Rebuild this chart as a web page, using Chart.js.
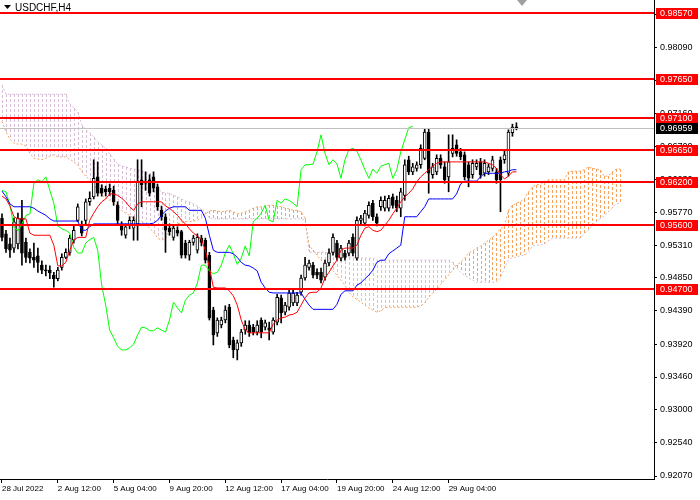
<!DOCTYPE html>
<html>
<head>
<meta charset="utf-8">
<title>USDCHF,H4</title>
<script src="https://cdn.jsdelivr.net/npm/chart.js@4.4.0/dist/chart.umd.min.js"></script>
<style>
  html, body { margin: 0; padding: 0; background: #fff; }
  #wrap { width: 700px; height: 500px; }
</style>
</head>
<body>
<div id="wrap"><canvas id="chart" width="700" height="500"></canvas></div>
<script>
// USDCHF H4 candles with Ichimoku and horizontal levels
const symbolTitle = 'USDCHF,H4';
const slotCount = 164;      // bar slots on the time axis
const labelStep = 14;       // one time label every 14 bars
const timeLabels = ['28 Jul 2022', '2 Aug 12:00', '5 Aug 04:00', '9 Aug 20:00', '12 Aug 12:00',
                    '17 Aug 04:00', '19 Aug 20:00', '24 Aug 12:00', '29 Aug 04:00'];
const priceTicks = [0.92070, 0.92540, 0.93000, 0.93460, 0.93920, 0.94390, 0.94850, 0.95310,
                    0.95770, 0.96230, 0.96700, 0.97160, 0.97620, 0.98090, 0.98550];
const levels = [0.98570, 0.97650, 0.97100, 0.96650, 0.96200, 0.95600, 0.94700];
const lastPrice = 0.96959;

const openP = [0.9569,0.9547,0.9533,0.9527,0.9533,0.9569,0.9535,0.9521,0.9514,0.9516,
  0.9503,0.9496,0.9496,0.9489,0.9484,0.9500,0.9514,0.9521,0.9538,0.9566,
  0.9559,0.9566,0.9592,0.9599,0.9627,0.9611,0.9610,0.9611,0.9608,0.9587,
  0.9559,0.9545,0.9559,0.9555,0.9561,0.9623,0.9621,0.9623,0.9627,0.9613,
  0.9580,0.9571,0.9555,0.9542,0.9552,0.9550,0.9534,0.9517,0.9535,0.9524,
  0.9541,0.9538,0.9517,0.9440,0.9408,0.9419,0.9426,0.9444,0.9398,0.9384,
  0.9394,0.9412,0.9419,0.9416,0.9409,0.9426,0.9416,0.9415,0.9409,0.9423,
  0.9457,0.9437,0.9444,0.9450,0.9450,0.9465,0.9485,0.9500,0.9503,0.9493,
  0.9493,0.9486,0.9506,0.9521,0.9534,0.9513,0.9520,0.9520,0.9542,0.9513,
  0.9566,0.9562,0.9573,0.9590,0.9571,0.9585,0.9583,0.9583,0.9599,0.9594,
  0.9583,0.9601,0.9651,0.9634,0.9639,0.9644,0.9653,0.9690,0.9630,0.9634,
  0.9653,0.9641,0.9627,0.9660,0.9672,0.9662,0.9658,0.9644,0.9630,0.9641,
  0.9648,0.9632,0.9634,0.9639,0.9634,0.9651,0.9651,0.9632,0.9689,0.9697];
const highP = [0.9575,0.9552,0.9541,0.9569,0.9576,0.9594,0.9541,0.9526,0.9534,0.9527,
  0.9509,0.9503,0.9502,0.9493,0.9500,0.9519,0.9526,0.9545,0.9558,0.9589,
  0.9565,0.9596,0.9606,0.9651,0.9648,0.9616,0.9614,0.9617,0.9614,0.9592,
  0.9564,0.9561,0.9571,0.9571,0.9651,0.9651,0.9634,0.9630,0.9634,0.9617,
  0.9586,0.9575,0.9561,0.9559,0.9557,0.9552,0.9538,0.9538,0.9545,0.9547,
  0.9545,0.9541,0.9521,0.9444,0.9429,0.9430,0.9446,0.9448,0.9402,0.9398,
  0.9413,0.9425,0.9425,0.9420,0.9425,0.9429,0.9426,0.9423,0.9429,0.9462,
  0.9461,0.9451,0.9468,0.9468,0.9465,0.9489,0.9514,0.9510,0.9507,0.9498,
  0.9499,0.9510,0.9526,0.9547,0.9538,0.9531,0.9524,0.9538,0.9547,0.9571,
  0.9573,0.9580,0.9592,0.9594,0.9575,0.9599,0.9600,0.9601,0.9603,0.9600,
  0.9611,0.9651,0.9656,0.9646,0.9648,0.9672,0.9694,0.9694,0.9646,0.9658,
  0.9658,0.9648,0.9686,0.9686,0.9679,0.9667,0.9662,0.9648,0.9651,0.9651,
  0.9653,0.9651,0.9645,0.9656,0.9639,0.9655,0.9665,0.9693,0.9701,0.9703];
const lowP = [0.9537,0.9521,0.9514,0.9521,0.9526,0.9503,0.9507,0.9506,0.9500,0.9493,
  0.9491,0.9488,0.9484,0.9472,0.9481,0.9496,0.9512,0.9517,0.9534,0.9564,
  0.9544,0.9561,0.9587,0.9596,0.9600,0.9600,0.9600,0.9601,0.9587,0.9561,
  0.9545,0.9541,0.9554,0.9538,0.9538,0.9585,0.9608,0.9600,0.9606,0.9580,
  0.9566,0.9521,0.9545,0.9538,0.9544,0.9513,0.9513,0.9510,0.9531,0.9520,
  0.9530,0.9506,0.9426,0.9391,0.9403,0.9415,0.9422,0.9387,0.9373,0.9370,
  0.9389,0.9406,0.9403,0.9405,0.9405,0.9401,0.9412,0.9398,0.9406,0.9419,
  0.9422,0.9433,0.9440,0.9446,0.9446,0.9461,0.9482,0.9496,0.9485,0.9484,
  0.9478,0.9482,0.9502,0.9517,0.9510,0.9509,0.9510,0.9516,0.9516,0.9510,
  0.9561,0.9558,0.9569,0.9566,0.9558,0.9580,0.9579,0.9579,0.9583,0.9578,
  0.9571,0.9594,0.9630,0.9630,0.9635,0.9639,0.9651,0.9604,0.9625,0.9630,
  0.9639,0.9618,0.9606,0.9655,0.9656,0.9651,0.9623,0.9613,0.9625,0.9637,
  0.9625,0.9628,0.9630,0.9635,0.9618,0.9578,0.9646,0.9628,0.9684,0.9693];
const closeP = [0.9542,0.9526,0.9524,0.9564,0.9569,0.9520,0.9514,0.9513,0.9510,0.9507,
  0.9496,0.9495,0.9492,0.9484,0.9496,0.9514,0.9521,0.9541,0.9552,0.9585,
  0.9548,0.9592,0.9597,0.9625,0.9604,0.9604,0.9606,0.9606,0.9592,0.9566,
  0.9552,0.9557,0.9566,0.9566,0.9620,0.9616,0.9618,0.9604,0.9611,0.9585,
  0.9571,0.9552,0.9550,0.9555,0.9548,0.9517,0.9517,0.9535,0.9541,0.9542,
  0.9535,0.9510,0.9429,0.9405,0.9426,0.9426,0.9440,0.9391,0.9384,0.9394,
  0.9409,0.9419,0.9408,0.9409,0.9419,0.9409,0.9422,0.9412,0.9426,0.9458,
  0.9436,0.9447,0.9464,0.9464,0.9461,0.9485,0.9503,0.9506,0.9489,0.9489,
  0.9482,0.9506,0.9520,0.9542,0.9514,0.9527,0.9514,0.9534,0.9520,0.9566,
  0.9569,0.9576,0.9587,0.9571,0.9562,0.9594,0.9594,0.9597,0.9587,0.9583,
  0.9606,0.9644,0.9634,0.9641,0.9644,0.9667,0.9690,0.9632,0.9641,0.9653,
  0.9644,0.9623,0.9648,0.9667,0.9660,0.9655,0.9627,0.9625,0.9646,0.9646,
  0.9630,0.9646,0.9641,0.9651,0.9623,0.9623,0.9658,0.9690,0.9697,0.96959];

// Ichimoku lines
const tenkan = [0.9600,0.9596,0.9586,0.9571,0.9568,0.9568,0.9568,0.9548,0.9545,0.9545,
  0.9545,0.9545,0.9545,0.9531,0.9502,0.9502,0.9507,0.9524,0.9538,0.9542,
  0.9542,0.9542,0.9566,0.9576,0.9585,0.9592,0.9596,0.9603,0.9603,0.9601,
  0.9597,0.9592,0.9585,0.9580,0.9589,0.9592,0.9592,0.9592,0.9592,0.9592,
  0.9592,0.9586,0.9583,0.9578,0.9573,0.9566,0.9561,0.9554,0.9548,0.9544,
  0.9539,0.9524,0.9500,0.9472,0.9471,0.9471,0.9471,0.9467,0.9460,0.9447,
  0.9426,0.9412,0.9408,0.9408,0.9408,0.9408,0.9408,0.9408,0.9420,0.9426,
  0.9429,0.9430,0.9433,0.9434,0.9437,0.9447,0.9457,0.9464,0.9465,0.9465,
  0.9471,0.9485,0.9493,0.9502,0.9510,0.9524,0.9527,0.9527,0.9527,0.9531,
  0.9545,0.9555,0.9557,0.9552,0.9550,0.9552,0.9559,0.9566,0.9575,0.9583,
  0.9592,0.9599,0.9604,0.9610,0.9620,0.9627,0.9632,0.9637,0.9642,0.9646,
  0.9648,0.9648,0.9648,0.9648,0.9648,0.9648,0.9648,0.9648,0.9648,0.9648,
  0.9648,0.9648,0.9646,0.9644,0.9639,0.9630,0.9624,0.9628,0.9634,0.9634];
const kijun = [0.9607,0.9599,0.9589,0.9585,0.9585,0.9585,0.9585,0.9585,0.9583,0.9579,
  0.9576,0.9573,0.9568,0.9565,0.9565,0.9565,0.9565,0.9565,0.9565,0.9565,
  0.9552,0.9552,0.9557,0.9561,0.9561,0.9561,0.9561,0.9561,0.9561,0.9561,
  0.9561,0.9561,0.9561,0.9561,0.9561,0.9561,0.9561,0.9561,0.9562,0.9566,
  0.9573,0.9579,0.9583,0.9585,0.9585,0.9585,0.9585,0.9580,0.9580,0.9580,
  0.9580,0.9569,0.9545,0.9524,0.9521,0.9521,0.9521,0.9521,0.9519,0.9514,
  0.9507,0.9503,0.9502,0.9499,0.9495,0.9479,0.9471,0.9465,0.9464,0.9464,
  0.9464,0.9464,0.9464,0.9464,0.9464,0.9464,0.9455,0.9447,0.9441,0.9441,
  0.9441,0.9441,0.9441,0.9441,0.9448,0.9462,0.9467,0.9467,0.9467,0.9475,
  0.9478,0.9484,0.9489,0.9496,0.9507,0.9510,0.9510,0.9519,0.9523,0.9527,
  0.9531,0.9571,0.9571,0.9571,0.9571,0.9578,0.9585,0.9596,0.9596,0.9596,
  0.9596,0.9596,0.9596,0.9596,0.9603,0.9617,0.9621,0.9621,0.9621,0.9621,
  0.9627,0.9632,0.9632,0.9632,0.9632,0.9632,0.9634,0.9635,0.9637,0.9637];
const chikou = [0.9608,0.9606,0.9587,0.9557,0.9551,0.9561,0.9573,0.9575,0.9618,0.9623,
  0.9620,0.9627,0.9608,0.9590,0.9558,0.9554,0.9552,0.9548,0.9528,0.9520,
  0.9520,0.9534,0.9539,0.9542,0.9524,0.9475,0.9447,0.9412,0.9401,0.9389,
  0.9384,0.9384,0.9387,0.9392,0.9405,0.9416,0.9415,0.9411,0.9411,0.9415,
  0.9412,0.9409,0.9426,0.9451,0.9443,0.9436,0.9454,0.9461,0.9464,0.9478,
  0.9503,0.9503,0.9495,0.9491,0.9493,0.9503,0.9520,0.9531,0.9519,0.9504,
  0.9513,0.9530,0.9516,0.9564,0.9569,0.9576,0.9587,0.9566,0.9564,0.9594,
  0.9590,0.9596,0.9594,0.9590,0.9585,0.9637,0.9644,0.9644,0.9645,0.9662,
  0.9686,0.9660,0.9644,0.9651,0.9645,0.9625,0.9651,0.9665,0.9667,0.9663,
  0.9651,0.9637,0.9625,0.9638,0.9632,0.9642,0.9644,0.9646,0.9625,0.9637,
  0.9662,0.9679,0.9696,0.9698];
const spanA = [0.9705,0.9690,0.9680,0.9674,0.9673,0.9673,0.9670,0.9660,0.9653,0.9652,
  0.9651,0.9653,0.9656,0.9658,0.9655,0.9655,0.9655,0.9652,0.9648,0.9644,
  0.9634,0.9628,0.9623,0.9616,0.9608,0.9601,0.9597,0.9594,0.9590,0.9587,
  0.9580,0.9576,0.9573,0.9569,0.9566,0.9564,0.9561,0.9555,0.9550,0.9541,
  0.9538,0.9541,0.9552,0.9559,0.9561,0.9562,0.9564,0.9564,0.9565,0.9566,
  0.9569,0.9575,0.9579,0.9580,0.9579,0.9578,0.9579,0.9580,0.9578,0.9575,
  0.9576,0.9578,0.9580,0.9583,0.9585,0.9585,0.9586,0.9587,0.9587,0.9586,
  0.9585,0.9583,0.9582,0.9580,0.9580,0.9578,0.9569,0.9531,0.9524,0.9517,
  0.9510,0.9504,0.9500,0.9495,0.9489,0.9482,0.9475,0.9465,0.9458,0.9455,
  0.9451,0.9447,0.9443,0.9440,0.9437,0.9439,0.9443,0.9444,0.9444,0.9444,
  0.9444,0.9444,0.9444,0.9444,0.9444,0.9446,0.9450,0.9458,0.9464,0.9469,
  0.9476,0.9482,0.9489,0.9496,0.9503,0.9507,0.9513,0.9520,0.9523,0.9527,
  0.9530,0.9534,0.9538,0.9542,0.9548,0.9554,0.9558,0.9580,0.9587,0.9590,
  0.9592,0.9596,0.9606,0.9613,0.9616,0.9616,0.9620,0.9623,0.9623,0.9623,
  0.9623,0.9623,0.9634,0.9635,0.9635,0.9635,0.9637,0.9641,0.9639,0.9638,
  0.9637,0.9628,0.9628,0.9634,0.9638,0.9638];
const spanB = [0.9756,0.9743,0.9743,0.9743,0.9743,0.9743,0.9743,0.9743,0.9743,0.9743,
  0.9743,0.9743,0.9743,0.9743,0.9743,0.9743,0.9743,0.9729,0.9724,0.9718,
  0.9700,0.9693,0.9689,0.9683,0.9676,0.9672,0.9667,0.9659,0.9652,0.9645,
  0.9642,0.9641,0.9639,0.9638,0.9637,0.9635,0.9634,0.9632,0.9623,0.9611,
  0.9606,0.9604,0.9604,0.9601,0.9599,0.9596,0.9593,0.9592,0.9589,0.9586,
  0.9582,0.9578,0.9569,0.9568,0.9568,0.9568,0.9568,0.9568,0.9568,0.9568,
  0.9568,0.9568,0.9568,0.9568,0.9568,0.9568,0.9568,0.9568,0.9568,0.9568,
  0.9568,0.9568,0.9568,0.9568,0.9568,0.9568,0.9566,0.9521,0.9521,0.9521,
  0.9521,0.9521,0.9521,0.9521,0.9519,0.9517,0.9516,0.9514,0.9513,0.9513,
  0.9513,0.9513,0.9513,0.9513,0.9510,0.9510,0.9510,0.9510,0.9510,0.9510,
  0.9510,0.9510,0.9510,0.9510,0.9510,0.9510,0.9510,0.9510,0.9510,0.9510,
  0.9510,0.9510,0.9510,0.9507,0.9499,0.9493,0.9489,0.9485,0.9482,0.9479,
  0.9479,0.9479,0.9479,0.9479,0.9479,0.9485,0.9499,0.9510,0.9514,0.9514,
  0.9516,0.9517,0.9521,0.9530,0.9531,0.9531,0.9533,0.9537,0.9541,0.9541,
  0.9541,0.9541,0.9541,0.9541,0.9541,0.9541,0.9547,0.9552,0.9559,0.9564,
  0.9568,0.9572,0.9578,0.9583,0.9589,0.9590];

document.addEventListener('DOMContentLoaded', function () {
    const ctx = document.getElementById('chart').getContext('2d');
    const slots = Array.from({ length: slotCount }, (_, i) => i);
    const tickFont = { family: 'Liberation Sans', size: 9 };
    const sandy = '#F4A460';
    const thistle = '#D8BFD8';

    function lineSet(label, data, color, order, dash) {
        return {
            type: 'line', label: label, data: data, borderColor: color, borderWidth: 1,
            borderDash: dash || [], pointRadius: 0, tension: 0, fill: false, order: order
        };
    }

    // Kumo: dotted vertical histogram between Senkou A and B, one stroke per bar
    const kumo = {
        id: 'kumo',
        beforeDatasetsDraw(chart) {
            const { ctx, chartArea: a, scales: { x, y } } = chart;
            ctx.save();
            ctx.beginPath();
            ctx.rect(a.left, a.top, a.width, a.height);
            ctx.clip();
            ctx.lineWidth = 1;
            ctx.setLineDash([3, 2]);
            spanA.forEach(function (va, i) {
                const vb = spanB[i];
                const px = Math.round(x.getPixelForValue(i)) + 0.5;
                const top = y.getPixelForValue(Math.max(va, vb));
                const bottom = y.getPixelForValue(Math.min(va, vb));
                ctx.strokeStyle = va >= vb ? sandy : thistle;
                ctx.beginPath();
                ctx.moveTo(px, Math.round(top));
                ctx.lineTo(px, Math.round(bottom));
                ctx.stroke();
            });
            ctx.restore();
        }
    };

    const overlay = {
        id: 'overlay',
        afterDatasetsDraw(chart) {
            const { ctx, chartArea: a, scales: { y } } = chart;
            ctx.save();
            // current bid line
            const py0 = Math.round(y.getPixelForValue(lastPrice)) + 0.5;
            ctx.strokeStyle = '#C0C0C0';
            ctx.lineWidth = 1;
            ctx.beginPath();
            ctx.moveTo(a.left, py0);
            ctx.lineTo(a.right, py0);
            ctx.stroke();
            // support / resistance levels
            ctx.strokeStyle = '#FF0000';
            ctx.lineWidth = 2;
            levels.forEach(function (v) {
                const py = Math.round(y.getPixelForValue(v));
                ctx.beginPath();
                ctx.moveTo(a.left, py);
                ctx.lineTo(a.right, py);
                ctx.stroke();
            });
            ctx.restore();
        },
        afterDraw(chart) {
            const { ctx, chartArea: a, scales: { x, y } } = chart;
            ctx.save();
            ctx.font = '9px "Liberation Sans"';
            ctx.textBaseline = 'middle';
            ctx.textAlign = 'left';
            function tag(v, bg) {
                const py = Math.round(y.getPixelForValue(v));
                ctx.fillStyle = bg;
                ctx.fillRect(a.right + 2, py - 5, 42, 11);
                ctx.fillStyle = '#FFFFFF';
                ctx.fillText(v.toFixed(5), a.right + 6, py + 0.5);
            }
            levels.forEach(function (v) { tag(v, '#FF0000'); });
            tag(lastPrice, '#000000');

            // symbol caption
            ctx.fillStyle = '#000000';
            ctx.beginPath();
            ctx.moveTo(4, 5); ctx.lineTo(11, 5); ctx.lineTo(7.5, 9);
            ctx.closePath();
            ctx.fill();
            ctx.font = '10px "Liberation Sans"';
            ctx.fillText(symbolTitle, 15, 8);

            // chart shift marker
            const sx = Math.round(x.getPixelForValue(closeP.length - 1)) + 6;
            ctx.fillStyle = '#A0A0A0';
            ctx.beginPath();
            ctx.moveTo(sx - 5, 0); ctx.lineTo(sx + 5, 0); ctx.lineTo(sx, 6);
            ctx.closePath();
            ctx.fill();
            ctx.restore();
        }
    };

    new Chart(ctx, {
        type: 'bar',
        data: {
            labels: slots,
            datasets: [
                lineSet('Tenkan-sen', tenkan, '#FF0000', 0),
                lineSet('Kijun-sen', kijun, '#0000FF', 0),
                lineSet('Chikou Span', chikou, '#00FF00', 0),
                {
                    label: 'Body', data: openP.map((o, i) => [o, closeP[i]]),
                    backgroundColor: openP.map((o, i) => closeP[i] >= o ? '#FFFFFF' : '#000000'),
                    borderColor: '#000000', borderWidth: 1, borderSkipped: false,
                    barThickness: 3, minBarLength: 1, grouped: false, order: 1
                },
                {
                    label: 'Wick', data: lowP.map((l, i) => [l, highP[i]]),
                    backgroundColor: '#000000', borderWidth: 0,
                    barThickness: 1, grouped: false, order: 2
                },
                lineSet('Senkou Span A', spanA, sandy, 3, [2, 2]),
                lineSet('Senkou Span B', spanB, thistle, 3, [2, 2])
            ]
        },
        options: {
            responsive: false,
            animation: false,
            devicePixelRatio: 1,
            events: [],
            layout: { padding: 0 },
            plugins: { legend: { display: false }, tooltip: { enabled: false } },
            scales: {
                x: {
                    type: 'category',
                    offset: true,
                    grid: { drawOnChartArea: false, drawTicks: true, tickLength: 4, color: '#000000', offset: false },
                    border: { display: true, color: '#000000', width: 1 },
                    ticks: {
                        autoSkip: false, maxRotation: 0, minRotation: 0, align: 'start', padding: 1,
                        color: '#000000', font: { family: 'Liberation Sans', size: 8 },
                        callback: function (value) { return timeLabels[value / labelStep]; }
                    },
                    afterBuildTicks: function (scale) {
                        scale.ticks = scale.ticks.filter(t => t.value % labelStep === 0 && t.value / labelStep < timeLabels.length);
                    },
                    afterFit: function (scale) {
                        scale.height = 21;
                        scale.paddingLeft = 0;
                        scale.paddingRight = 0;
                    }
                },
                y: {
                    position: 'right',
                    min: 0.92028,
                    max: 0.98753,
                    grid: { drawOnChartArea: false, drawTicks: true, tickLength: 3, color: '#000000' },
                    border: { display: true, color: '#000000', width: 1 },
                    ticks: {
                        color: '#000000', font: tickFont, padding: 3,
                        callback: function (value) { return Number(value).toFixed(5); }
                    },
                    afterBuildTicks: function (scale) {
                        scale.ticks = priceTicks.map(v => ({ value: v }));
                    },
                    afterFit: function (scale) {
                        scale.width = 46;
                        scale.paddingTop = 0;
                        scale.paddingBottom = 0;
                    }
                }
            }
        },
        plugins: [kumo, overlay]
    });
});
</script>
</body>
</html>
